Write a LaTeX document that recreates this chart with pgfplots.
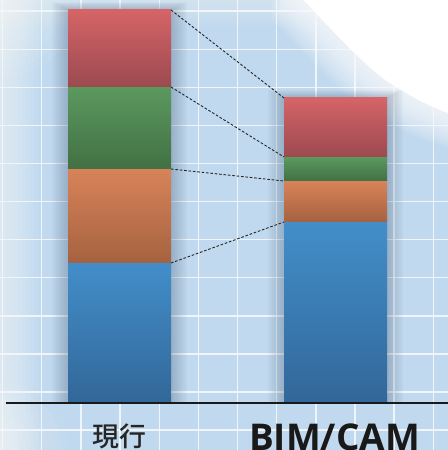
\documentclass[border=0pt]{standalone}
\usepackage{pgfplots}
\pgfplotsset{compat=1.18}
\usepackage{fontspec}
\newfontfamily\jpfont{Noto Sans CJK JP Medium}
\newfontfamily\labfont{Open Sans}

\definecolor{bgblue}{RGB}{192,217,238}
\definecolor{shadowc}{RGB}{50,70,100}
\definecolor{redT}{RGB}{213,100,103}
\definecolor{redB}{RGB}{155,74,80}
\definecolor{greenT}{RGB}{91,153,94}
\definecolor{greenB}{RGB}{66,112,68}
\definecolor{orangeT}{RGB}{216,131,89}
\definecolor{orangeB}{RGB}{165,98,64}
\definecolor{blueT}{RGB}{66,142,202}
\definecolor{blueB}{RGB}{50,103,152}

\pgfplotsset{
  frame/.style={
    at={(0,0)}, anchor=south west,
    scale only axis, width=448bp, height=450bp,
    xmin=0, xmax=448, ymin=-47, ymax=403,
    axis line style={draw=none},
    tick style={draw=none},
    xticklabels={}, yticklabels={},
  },
  seg/.style 2 args={draw=none, top color=#1, bottom color=#2},
}

\begin{document}
\begin{tikzpicture}
% background, grid, soft edges, shadows
\begin{axis}[
    frame,
    axis background/.style={fill=bgblue},
    xtick={2.5,41.7,80.9,120.0,159.2,198.3,237.5,276.7,315.8,355.0,394.1,433.3},
    ytick={391.8,353.7,315.6,277.5,239.4,201.3,163.3,125.2,87.1,49.0,11.0,-27.1},
    grid=major,
    major grid style={draw=white, line width=1.4bp, opacity=0.75},
  ]
  \pgfplotsinvokeforeach{0,...,9}{
    \fill[white, opacity=0.07] (axis cs:0,-47) rectangle (axis cs:{2+4*#1},403);
    \fill[white, opacity=0.04] (axis cs:0,{403-3*#1}) rectangle (axis cs:448,403);
    \fill[white, opacity=0.05] (axis cs:0,-47) circle[radius={6+7*#1}];
    \fill[white, opacity=0.06] (axis cs:0,403) circle[radius={6+8*#1}];
  }
  \pgfplotsinvokeforeach{3,6,...,36}{
    \fill[white, opacity=0.10, xshift={-0.7*#1 bp}, yshift={-0.72*#1 bp}]
      (axis cs:297,410) .. controls (axis cs:342,362) and (axis cs:370,332)
      .. (axis cs:393,318) .. controls (axis cs:413,305) and (axis cs:433,294)
      .. (axis cs:470,282) -- (axis cs:520,282) -- (axis cs:520,460) -- (axis cs:297,460) -- cycle;
  }
  \fill[white]
    (axis cs:297,410) .. controls (axis cs:342,362) and (axis cs:370,332)
    .. (axis cs:393,318) .. controls (axis cs:413,305) and (axis cs:433,294)
    .. (axis cs:470,282) -- (axis cs:520,282) -- (axis cs:520,460) -- (axis cs:297,460) -- cycle;
  \pgfplotsinvokeforeach{1,...,8}{
    \fill[shadowc, opacity=0.035] (axis cs:{68-2*#1},0) rectangle (axis cs:{171+2*#1},{393+1*#1});
    \fill[shadowc, opacity=0.035] (axis cs:{284-2*#1},0) rectangle (axis cs:{387+2*#1},{305+1*#1});
  }
\end{axis}
% stacked bar segments: left bar 140/94/82/77, right bar 181/41/24/59
\begin{axis}[
    frame,
    xtick=\empty, ytick=\empty,
  ]
  \addplot[seg={blueT}{blueB}]     coordinates {(68,0) (171,0) (171,140) (68,140)} --cycle;
  \addplot[seg={orangeT}{orangeB}] coordinates {(68,140) (171,140) (171,234) (68,234)} --cycle;
  \addplot[seg={greenT}{greenB}]   coordinates {(68,234) (171,234) (171,316) (68,316)} --cycle;
  \addplot[seg={redT}{redB}]       coordinates {(68,316) (171,316) (171,393) (68,393)} --cycle;
  \addplot[seg={blueT}{blueB}]     coordinates {(284,0) (387,0) (387,181) (284,181)} --cycle;
  \addplot[seg={orangeT}{orangeB}] coordinates {(284,181) (387,181) (387,222) (284,222)} --cycle;
  \addplot[seg={greenT}{greenB}]   coordinates {(284,222) (387,222) (387,246) (284,246)} --cycle;
  \addplot[seg={redT}{redB}]       coordinates {(284,246) (387,246) (387,305) (284,305)} --cycle;
\end{axis}
% connectors, base line, labels
\begin{axis}[
    frame,
    xtick=\empty, ytick=\empty,
    clip=false,
  ]
  \addplot[black!85, line width=0.9bp, dash pattern=on 2.6bp off 1.8bp]
    coordinates {(171,393) (284,305)};
  \addplot[black!85, line width=0.9bp, dash pattern=on 2.6bp off 1.8bp]
    coordinates {(171,316) (284,246)};
  \addplot[black!85, line width=0.9bp, dash pattern=on 2.6bp off 1.8bp]
    coordinates {(171,234) (284,222)};
  \addplot[black!85, line width=0.9bp, dash pattern=on 2.6bp off 1.8bp]
    coordinates {(171,140) (284,181)};
  \addplot[black!90, line width=2bp] coordinates {(6,0) (448,0)};
  \node[anchor=base, text=black!85, inner sep=0pt,
        font=\jpfont\fontsize{27}{27}\selectfont] at (axis cs:119.5,-43) {現行};
  \node[anchor=base, text=black!90, inner sep=0pt,
        font=\labfont\bfseries\fontsize{37}{37}\selectfont] at (axis cs:334.5,-47) {BIM/CAM};
\end{axis}
\pgfresetboundingbox
\useasboundingbox (0,0) rectangle (448bp,450bp);
\end{tikzpicture}
\end{document}
